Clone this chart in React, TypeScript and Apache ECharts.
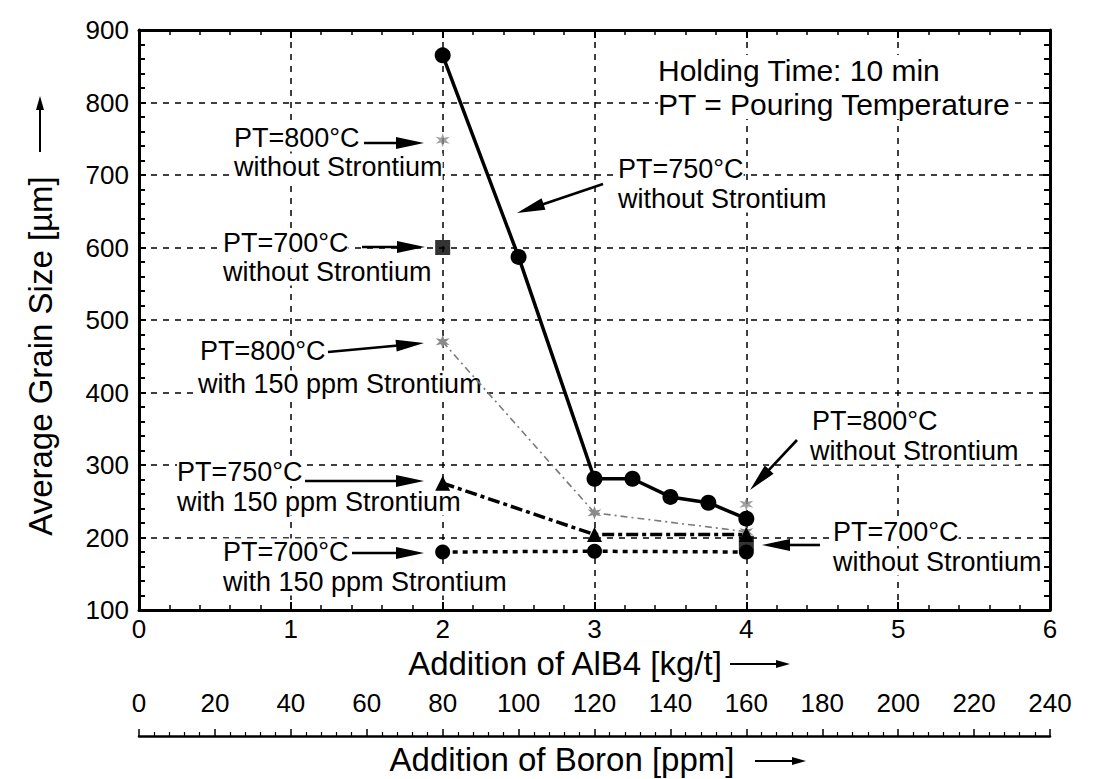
import React, { useEffect, useRef } from "react";
import * as echarts from "echarts";

// ---- data ----
const yTickMin = 100;
const yTickMax = 900;
const alb4Min = 0;
const alb4Max = 6;
const boronMin = 0;
const boronMax = 240;

const pt750NoSrX = [2, 2.5, 3, 3.25, 3.5, 3.75, 4];
const pt750NoSrY = [865, 587, 281, 281, 256, 248, 226];

const pt800NoSrX = [2, 4];
const pt800NoSrY = [748, 246];

const pt700NoSrX = [2, 4];
const pt700NoSrY = [600, 192];

const pt800SrX = [2, 3, 4];
const pt800SrY = [470, 234, 208];

const pt750SrX = [2, 3, 4];
const pt750SrY = [275, 204, 204];

const pt700SrX = [2, 3, 4];
const pt700SrY = [180, 181, 180];

const pairs = (xs: number[], ys: number[]) => xs.map((x, i) => [x, ys[i]]);

const FONT = '"Liberation Sans", Arial, Helvetica, sans-serif';
const STAR =
  "path://M0,-10L2,-3.46L8.66,-5L4,0L8.66,5L2,3.46L0,10L-2,3.46L-8.66,5L-4,0L-8.66,-5L-2,-3.46Z";

// ---- annotation layout (pixels) ----
const labels: [string, number, number, number][] = [
  ["PT=800°C", 234, 138, 27],
  ["without Strontium", 234, 167, 27],
  ["PT=700°C", 223, 243, 27],
  ["without Strontium", 223, 272, 27],
  ["PT=800°C", 200, 351, 27],
  ["with 150 ppm Strontium", 198, 384, 27],
  ["PT=750°C", 177, 472, 27],
  ["with 150 ppm Strontium", 177, 502, 27],
  ["PT=700°C", 223, 552, 27],
  ["with 150 ppm Strontium", 223, 582, 27],
  ["PT=750°C", 618, 169, 27],
  ["without Strontium", 618, 199, 27],
  ["Holding Time: 10 min", 658, 70, 30],
  ["PT = Pouring Temperature", 658, 104, 30],
  ["PT=800°C", 812, 421, 27],
  ["without Strontium", 810, 451, 27],
  ["PT=700°C", 833, 532, 27],
  ["without Strontium", 833, 562, 27],
];

const arrows: [number, number, number, number][] = [
  [364, 143, 424, 143],
  [362, 247, 425, 247],
  [328, 352, 424, 343],
  [305, 481, 424, 481],
  [352, 553, 424, 553],
  [603, 184, 517, 213],
  [797, 440, 750, 490],
  [820, 545, 762, 545],
];

function arrow(x1: number, y1: number, x2: number, y2: number, headLen = 28, headHalf = 6, width = 2.6) {
  const dx = x2 - x1;
  const dy = y2 - y1;
  const L = Math.hypot(dx, dy);
  const ux = dx / L;
  const uy = dy / L;
  const bx = x2 - ux * headLen;
  const by = y2 - uy * headLen;
  const px = -uy;
  const py = ux;
  return [
    {
      type: "line",
      z: 10,
      silent: true,
      shape: { x1, y1, x2: bx + ux * 2, y2: by + uy * 2 },
      style: { stroke: "#000", lineWidth: width },
    },
    {
      type: "polygon",
      z: 10,
      silent: true,
      shape: {
        points: [
          [x2, y2],
          [bx + px * headHalf, by + py * headHalf],
          [bx - px * headHalf, by - py * headHalf],
        ],
      },
      style: { fill: "#000" },
    },
  ];
}

export default function App() {
  const ref = useRef<HTMLDivElement>(null);

  useEffect(() => {
    if (!ref.current) return;
    const chart = echarts.init(ref.current, undefined, { renderer: "svg" });

    const graphic: any[] = [];
    labels.forEach(([t, x, y, fs]) => {
      graphic.push({
        type: "text",
        z: 1,
        silent: true,
        x,
        y,
        style: {
          text: t,
          fontSize: fs,
          fontFamily: FONT,
          fill: "#000",
          align: "left",
          verticalAlign: "middle",
          backgroundColor: "#fff",
        },
      });
    });
    arrows.forEach(([a, b, c, d]) => graphic.push(...arrow(a, b, c, d)));

    // axis names
    graphic.push({
      type: "text",
      silent: true,
      x: 40,
      y: 356,
      rotation: Math.PI / 2,
      style: {
        text: "Average Grain Size [µm]",
        fontSize: 33,
        fontFamily: FONT,
        fill: "#000",
        align: "center",
        verticalAlign: "middle",
      },
    });
    graphic.push(...arrow(40, 152, 40, 96, 14, 4, 2));
    graphic.push({
      type: "text",
      silent: true,
      x: 565,
      y: 663,
      style: {
        text: "Addition of AlB4 [kg/t]",
        fontSize: 33,
        fontFamily: FONT,
        fill: "#000",
        align: "center",
        verticalAlign: "middle",
      },
    });
    graphic.push(...arrow(730, 664, 790, 664, 14, 4, 2));
    graphic.push({
      type: "text",
      silent: true,
      x: 562,
      y: 759,
      style: {
        text: "Addition of Boron [ppm]",
        fontSize: 33,
        fontFamily: FONT,
        fill: "#000",
        align: "center",
        verticalAlign: "middle",
      },
    });
    graphic.push(...arrow(755, 761, 806, 761, 14, 4, 2));

    const axisLine = { show: true, onZero: false, lineStyle: { color: "#000", width: 3 } };
    const splitLine = { show: true, lineStyle: { color: "#000", width: 1.5, type: [6, 6] } };
    const labelStyle = { color: "#000", fontSize: 26, fontFamily: FONT };

    chart.setOption({
      animation: false,
      backgroundColor: "#fff",
      grid: [
        { left: 139, right: 45, top: 30, bottom: 169, containLabel: false },
        { left: 139, right: 45, top: 736, height: 1, containLabel: false },
      ],
      xAxis: [
        {
          gridIndex: 0,
          type: "value",
          position: "bottom",
          min: alb4Min,
          max: alb4Max,
          interval: 1,
          axisLine,
          axisTick: { show: true, inside: true, length: 8, lineStyle: { color: "#000", width: 2 } },
          minorTick: { show: true, splitNumber: 5, length: 5, lineStyle: { color: "#000", width: 1.5 } },
          splitLine,
          axisLabel: { ...labelStyle, margin: 6 },
        },
        {
          gridIndex: 0,
          type: "value",
          position: "top",
          min: alb4Min,
          max: alb4Max,
          interval: 1,
          axisLine,
          axisTick: { show: true, inside: true, length: 8, lineStyle: { color: "#000", width: 2 } },
          minorTick: { show: true, splitNumber: 5, length: 5, lineStyle: { color: "#000", width: 1.5 } },
          splitLine: { show: false },
          axisLabel: { show: false },
        },
        {
          gridIndex: 1,
          type: "value",
          position: "top",
          min: boronMin,
          max: boronMax,
          interval: 20,
          axisLine: { show: true, onZero: false, lineStyle: { color: "#000", width: 2.5 } },
          axisTick: { show: true, inside: false, length: 7, lineStyle: { color: "#000", width: 1.5 } },
          minorTick: { show: true, splitNumber: 5, length: 4, lineStyle: { color: "#000", width: 1.2 } },
          splitLine: { show: false },
          axisLabel: { ...labelStyle, margin: 20 },
        },
      ],
      yAxis: [
        {
          gridIndex: 0,
          type: "value",
          position: "left",
          min: yTickMin,
          max: yTickMax,
          interval: 100,
          axisLine,
          axisTick: { show: true, inside: true, length: 7, lineStyle: { color: "#000", width: 2 } },
          minorTick: { show: true, splitNumber: 5, length: 6, lineStyle: { color: "#000", width: 2 } },
          splitLine,
          axisLabel: { ...labelStyle, margin: 10 },
        },
        {
          gridIndex: 0,
          type: "value",
          position: "right",
          min: yTickMin,
          max: yTickMax,
          interval: 100,
          axisLine,
          axisTick: { show: true, inside: true, length: 7, lineStyle: { color: "#000", width: 2 } },
          minorTick: { show: true, splitNumber: 5, length: 6, lineStyle: { color: "#000", width: 2 } },
          splitLine: { show: false },
          axisLabel: { show: false },
        },
        { gridIndex: 1, type: "value", show: false, min: 0, max: 1 },
      ],
      series: [
        {
          name: "PT=800°C with 150 ppm Strontium",
          type: "line",
          xAxisIndex: 0,
          yAxisIndex: 0,
          data: pairs(pt800SrX, pt800SrY),
          symbol: STAR,
          symbolSize: 14,
          itemStyle: { color: "#8a8a8a" },
          lineStyle: { color: "#7a7a7a", width: 1.6, type: [7, 4, 2, 4] },
          z: 3,
        },
        {
          name: "PT=750°C with 150 ppm Strontium",
          type: "line",
          xAxisIndex: 0,
          yAxisIndex: 0,
          data: pairs(pt750SrX, pt750SrY),
          symbol: "triangle",
          symbolSize: 15,
          itemStyle: { color: "#000" },
          lineStyle: { color: "#000", width: 3.5, type: [12, 4, 4, 4] },
          z: 4,
        },
        {
          name: "PT=700°C with 150 ppm Strontium",
          type: "line",
          xAxisIndex: 0,
          yAxisIndex: 0,
          data: pairs(pt700SrX, pt700SrY),
          symbol: "circle",
          symbolSize: 15,
          itemStyle: { color: "#000" },
          lineStyle: { color: "#000", width: 3.5, type: [5, 5] },
          z: 4,
        },
        {
          name: "PT=700°C without Strontium",
          type: "scatter",
          xAxisIndex: 0,
          yAxisIndex: 0,
          data: pairs(pt700NoSrX, pt700NoSrY),
          symbol: "rect",
          symbolSize: 15,
          itemStyle: { color: "#000" },
          z: 5,
        },
        {
          name: "PT=800°C without Strontium",
          type: "scatter",
          xAxisIndex: 0,
          yAxisIndex: 0,
          data: pairs(pt800NoSrX, pt800NoSrY),
          symbol: STAR,
          symbolSize: 14,
          itemStyle: { color: "#8a8a8a" },
          z: 5,
        },
        {
          name: "PT=750°C without Strontium",
          type: "line",
          xAxisIndex: 0,
          yAxisIndex: 0,
          data: pairs(pt750NoSrX, pt750NoSrY),
          symbol: "circle",
          symbolSize: 16,
          itemStyle: { color: "#000" },
          lineStyle: { color: "#000", width: 3.5 },
          z: 6,
        },
      ],
      graphic,
    });

    return () => chart.dispose();
  }, []);

  return (
    <div
      ref={ref}
      style={{ position: "absolute", left: 0, top: 0, width: 1095, height: 779, background: "#fff" }}
    />
  );
}
